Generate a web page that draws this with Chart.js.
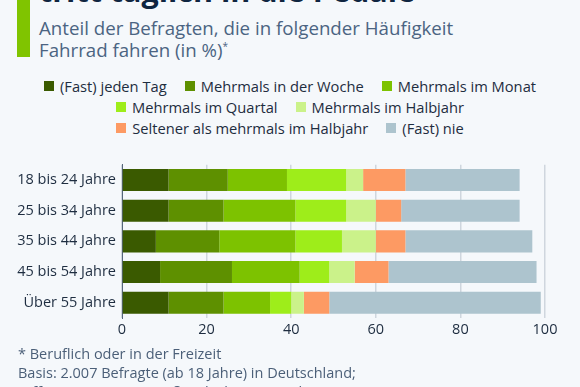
<!DOCTYPE html>
<html>
<head>
<meta charset="utf-8">
<script src="https://cdn.jsdelivr.net/npm/chart.js@4.4.0/dist/chart.umd.min.js"></script>
<style>
  html, body { margin: 0; padding: 0; }
  body { width: 580px; height: 387px; background: #f5f8fb; position: relative; overflow: hidden; font-family: "Open Sans", sans-serif; }
  .accent { position: absolute; left: 17px; top: 0; width: 13px; height: 57px; background: #80c400; }
  .title { position: absolute; left: 39px; top: -64px; font-size: 30.5px; font-weight: 700; color: #0f2540; line-height: 36px; white-space: nowrap; }
  .subtitle { position: absolute; left: 39px; top: 17px; font-size: 18.7px; line-height: 22px; color: #4b6482; }
  .subtitle sup { font-size: 10px; vertical-align: 7px; line-height: 0; }
  .legend { position: absolute; left: 0; top: 75px; width: 580px; }
  .lrow { display: flex; justify-content: center; height: 21px; align-items: center; }
  .litem { display: flex; align-items: center; margin: 0 9px; font-size: 14.7px; color: #1e2d40; white-space: nowrap; }
  .lbox { width: 10px; height: 10px; margin-right: 6px; }
  .chartwrap { position: absolute; left: 0; top: 150px; width: 580px; height: 195px; }
  .notes { position: absolute; left: 18px; top: 344px; font-size: 14.5px; line-height: 19px; color: #4b5f78; }
</style>
</head>
<body>
<div class="accent"></div>
<div class="title">Jeder Zehnte<br>tritt täglich in die Pedale</div>
<div class="subtitle">Anteil der Befragten, die in folgender Häufigkeit<br>Fahrrad fahren (in %)<sup>*</sup></div>
<div class="legend" id="legend"></div>
<div class="chartwrap"><canvas id="chart"></canvas></div>
<div class="notes">* Beruflich oder in der Freizeit<br>Basis: 2.007 Befragte (ab 18 Jahre) in Deutschland;<br>Differenz zu 100%: Weiß nicht/keine Angabe; 26.-28.06.2023</div>
<script>
const ageGroups = ['18 bis 24 Jahre', '25 bis 34 Jahre', '35 bis 44 Jahre', '45 bis 54 Jahre', 'Über 55 Jahre'];
const seriesNames = ['(Fast) jeden Tag', 'Mehrmals in der Woche', 'Mehrmals im Monat', 'Mehrmals im Quartal', 'Mehrmals im Halbjahr', 'Seltener als mehrmals im Halbjahr', '(Fast) nie'];
const seriesColors = ['#3a5a00', '#5e9000', '#7dc200', '#9eed1a', '#cbf28a', '#fd9a63', '#adc4ce'];
const dailyValues = [11, 11, 8, 9, 11];
const weeklyValues = [14, 13, 15, 17, 13];
const monthlyValues = [14, 17, 18, 16, 11];
const quarterlyValues = [14, 12, 11, 7, 5];
const halfYearValues = [4, 7, 8, 6, 3];
const rarerValues = [10, 6, 7, 8, 6];
const neverValues = [27, 28, 30, 35, 50];
const xTicks = [0, 20, 40, 60, 80, 100];
const legendRows = [[0, 1, 2], [3, 4], [5, 6]];

const allValues = [dailyValues, weeklyValues, monthlyValues, quarterlyValues, halfYearValues, rarerValues, neverValues];

const legend = document.getElementById('legend');
legendRows.forEach(row => {
  const r = document.createElement('div');
  r.className = 'lrow';
  row.forEach(i => {
    const it = document.createElement('div');
    it.className = 'litem';
    it.innerHTML = '<span class="lbox" style="background:' + seriesColors[i] + '"></span>' + seriesNames[i];
    r.appendChild(it);
  });
  legend.appendChild(r);
});

new Chart(document.getElementById('chart'), {
  type: 'bar',
  data: {
    labels: ageGroups,
    datasets: seriesNames.map((name, i) => ({
      label: name,
      data: allValues[i],
      backgroundColor: seriesColors[i],
      borderWidth: 0,
      categoryPercentage: 0.72,
      barPercentage: 1
    }))
  },
  options: {
    indexAxis: 'y',
    responsive: true,
    maintainAspectRatio: false,
    animation: false,
    layout: { padding: { top: 8, right: 35, left: 0, bottom: 0 } },
    plugins: { legend: { display: false }, tooltip: { enabled: false } },
    scales: {
      x: {
        stacked: true,
        min: 0,
        max: 100,
        afterBuildTicks: s => { s.ticks = xTicks.map(v => ({ value: v })); },
        afterFit: s => { s.height = 27; },
        grid: { color: '#cfd6de', lineWidth: 1.5, drawTicks: false },
        border: { display: false },
        ticks: { padding: 3, color: '#1e2d40', font: { family: 'Open Sans', size: 14.5 } }
      },
      y: {
        stacked: true,
        afterFit: s => { s.width = 122; },
        grid: { display: false, drawTicks: false },
        border: { display: true, color: '#55667a', width: 1 },
        ticks: { padding: 6, color: '#1e2d40', font: { family: 'Open Sans', size: 14.5 } }
      }
    }
  }
});
</script>
</body>
</html>
